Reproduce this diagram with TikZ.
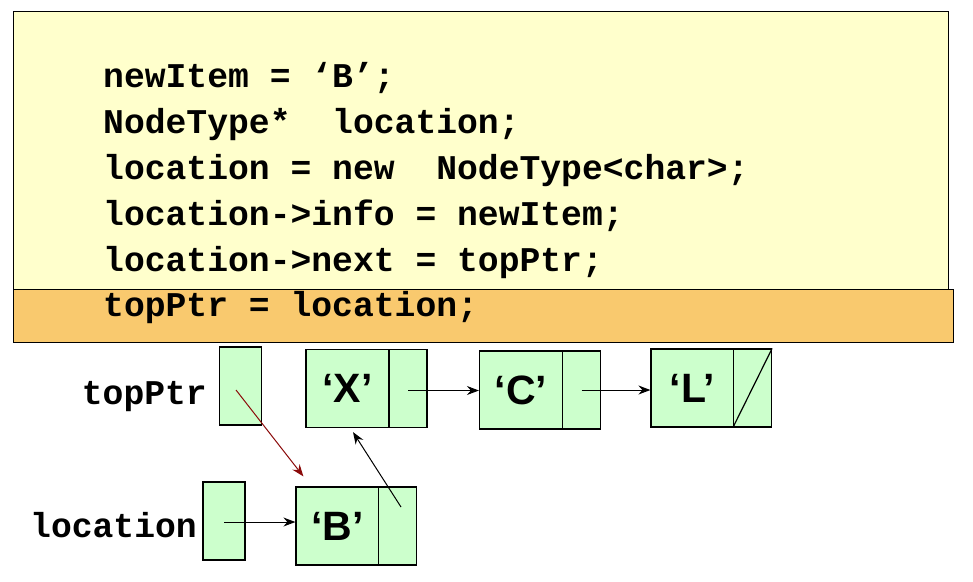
\documentclass[tikz,border=0pt]{standalone}
\usepackage{fontspec}
\setmainfont{Liberation Sans}
\newfontfamily\codefont{Liberation Mono}
\usetikzlibrary{arrows.meta}
\definecolor{yel}{HTML}{FFFFCC}
\definecolor{org}{HTML}{F9C96E}
\definecolor{grn}{HTML}{CCFFCC}
\definecolor{dred}{HTML}{8B0A0A}
\begin{document}
\begin{tikzpicture}[x=1pt,y=-1pt,
  code/.style={font=\codefont\bfseries\fontsize{34.7}{40}\selectfont, anchor=base west, inner sep=0pt},
  lbl/.style={font=\codefont\bfseries\fontsize{34.7}{40}\selectfont, anchor=base east, inner sep=0pt},
  panelbox/.style={draw=black, line width=1.3pt, inner sep=0pt, anchor=north west},
  cell/.style={draw=black, fill=grn, line width=1.2pt, inner sep=0pt, minimum height=78pt},
  info/.style={cell, minimum width=83pt, font=\bfseries\fontsize{41}{46}\selectfont},
  nxt/.style={cell, minimum width=38pt},
  ptr/.style={cell, minimum width=42pt},
  arr/.style={-{Stealth[length=12pt,width=9pt,inset=4pt]}, line width=1pt},
  redarr/.style={arr, draw=dred}
]
\useasboundingbox (0,0) rectangle (973,581);
\fill[white] (0,0) rectangle (973,581);
\node[panelbox, fill=yel, minimum width=935pt, minimum height=278pt] (panel) at (13,11) {};
\node[panelbox, fill=org, minimum width=940pt, minimum height=53pt] (hl) at (13,289) {};

\node[code] (c1) at (103,87) {newItem = ‘B’;};
\node[code] (c2) at (103,133) {NodeType*\ \ location;};
\node[code] (c3) at (103,179) {location = new\ \ NodeType<char>;};
\node[code] (c4) at (103,225) {location->info = newItem;};
\node[code] (c5) at (103,271) {location->next = topPtr;};
\node[code] (c6) at (103,316) {topPtr = location;};

\node[lbl] (tplbl) at (207,404) {topPtr};
\node[lbl] (loclbl) at (197,537) {location};

\node[ptr] (tp) at (240.5,386) {};
\node[ptr] (loc) at (224,521) {};

\node[info] (Xinfo) at (347.5,388.5) {‘X’};
\node[nxt] (Xnext) at (408,388.5) {};
\node[info] (Cinfo) at (521,390) {‘C’};
\node[nxt] (Cnext) at (581.5,390) {};
\node[info] (Linfo) at (692.5,388) {‘L’};
\node[nxt] (Lnext) at (752.5,388) {};
\node[info] (Binfo) at (337.5,526) {‘B’};
\node[nxt] (Bnext) at (397.5,526) {};

\draw[line width=1.2pt] (Lnext.south west) -- (Lnext.north east);

\draw[arr] ([yshift=-2pt]Xnext.center) -- ([yshift=-2pt]Xnext.center -| Cinfo.west);
\draw[arr] (Cnext.center) -- (Cnext.center -| Linfo.west);
\draw[arr] ([yshift=-1pt]loc.center) -- ([yshift=-1pt]loc.center -| Binfo.west);
\draw[arr] ([xshift=3.5pt,yshift=19pt]Bnext.center) -- ([xshift=5.5pt,yshift=-4pt]Xinfo.south);
\draw[redarr] ([xshift=-4.5pt,yshift=-4pt]tp.center) -- ([xshift=8pt,yshift=10pt]Binfo.north west);
\end{tikzpicture}
\end{document}
